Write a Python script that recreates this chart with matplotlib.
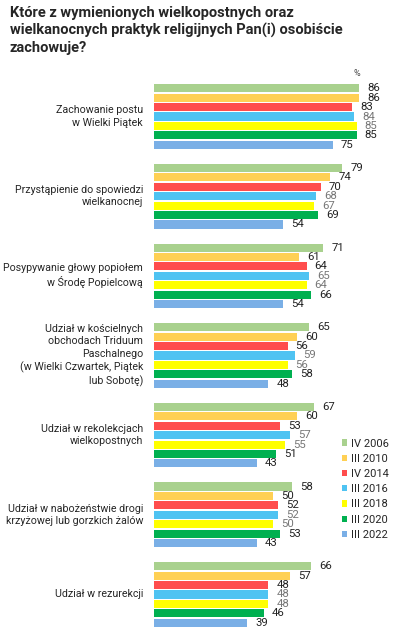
import numpy as np
import matplotlib.pyplot as plt
from matplotlib.transforms import blended_transform_factory

plt.rcParams['font.family'] = ['Roboto', 'DejaVu Sans']

# --- data ---
categories = [
    'Zachowanie postu\nw Wielki Piątek',
    'Przystąpienie do spowiedzi\nwielkanocnej',
    'Posypywanie głowy popiołem\nw Środę Popielcową',
    'Udział w kościelnych\nobchodach Triduum\nPaschalnego\n(w Wielki Czwartek, Piątek\nlub Sobotę)',
    'Udział w rekolekcjach\nwielkopostnych',
    'Udział w nabożeństwie drogi\nkrzyżowej lub gorzkich żalów',
    'Udział w rezurekcji',
]
waves = ['IV 2006', 'III 2010', 'IV 2014', 'III 2016', 'III 2018', 'III 2020', 'III 2022']
values = {
    'IV 2006':  [86, 79, 71, 65, 67, 58, 66],
    'III 2010': [86, 74, 61, 60, 60, 50, 57],
    'IV 2014':  [83, 70, 64, 56, 53, 52, 48],
    'III 2016': [84, 68, 65, 59, 57, 52, 48],
    'III 2018': [85, 67, 64, 56, 55, 50, 48],
    'III 2020': [85, 69, 66, 58, 51, 53, 46],
    'III 2022': [75, 54, 54, 48, 43, 43, 39],
}
colors = ['#a9d18e', '#ffd054', '#ff4d4d', '#4fc3f2', '#ffff00', '#00b050', '#7aafe6']
label_colors = ['#222222', '#222222', '#222222', '#777777', '#777777', '#222222', '#222222']

W, H = 397, 643
fig = plt.figure(figsize=(W / 100, H / 100), dpi=100)

# axes placed in pixel terms
ax_left, ax_right = 154, 392.4
ax_top, ax_bot = 84, 627
ax = fig.add_axes([ax_left / W, 1 - ax_bot / H, (ax_right - ax_left) / W, (ax_bot - ax_top) / H])

group_pitch = 8.45
n_w = len(waves)
base = np.arange(len(categories)) * group_pitch

bars = []
for i, w in enumerate(waves):
    y = base + i
    b = ax.barh(y, values[w], height=0.86, color=colors[i], label=w, zorder=2)
    bars.append(b)
    for yy, v in zip(y, values[w]):
        ax.text(v + 3.4, yy, str(v), ha='left', va='center', fontsize=8.2,
                color=label_colors[i])

ax.set_xlim(0, 100)
ax.set_ylim(base[-1] + n_w - 1 + 0.45, -0.45)
ax.axis('off')

# category labels
trans = blended_transform_factory(ax.transAxes, ax.transData)
for yc, cat in zip(base + (n_w - 1) / 2, categories):
    ax.text(-11 / (ax_right - ax_left), yc, cat, transform=trans, ha='right', va='center',
            fontsize=7.7, color='#262626', linespacing=1.3)

# title
fig.text(10 / W, 1 - 6 / H,
         'Które z wymienionych wielkopostnych oraz\nwielkanocnych praktyk religijnych Pan(i) osobiście\nzachowuje?',
         ha='left', va='top', fontsize=10.5, fontweight='bold', color='#262626', linespacing=1.25)

fig.text(357 / W, 1 - 73 / H, '%', ha='center', va='center', fontsize=6.5, color='#444444')

# legend
leg = fig.legend(handles=bars, labels=waves, loc='upper left',
                 bbox_to_anchor=(336 / W, 1 - 433 / H), frameon=False,
                 fontsize=8, handlelength=0.5, handleheight=0.5, handletextpad=0.35,
                 labelspacing=0.47, borderpad=0, labelcolor='#262626')

fig.savefig('out.png', dpi=100)
